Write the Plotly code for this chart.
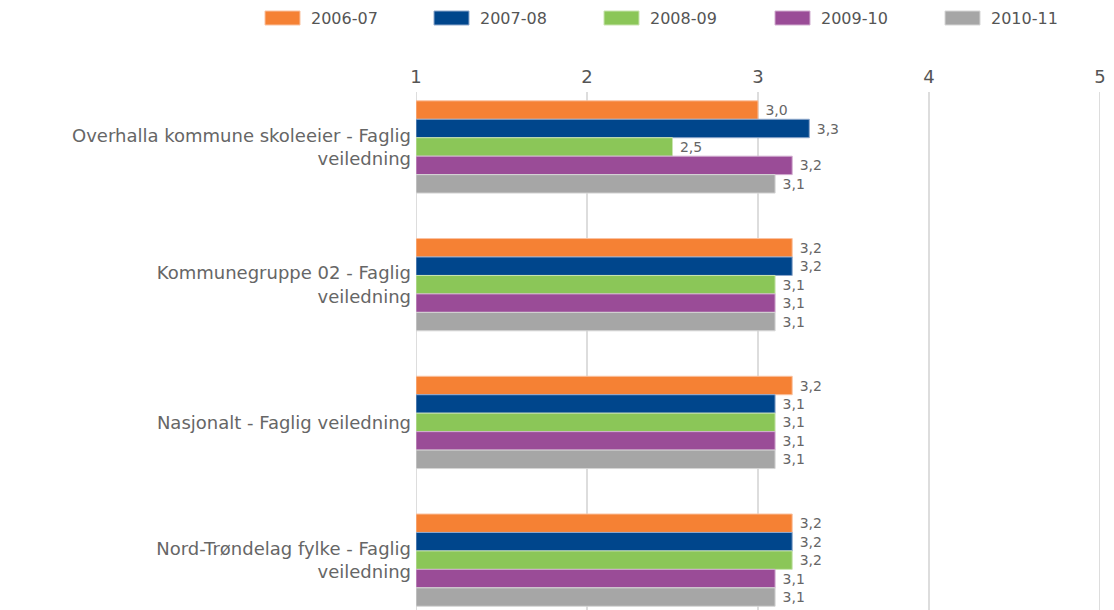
import plotly.graph_objects as go

categories = [
    "Overhalla kommune skoleeier - Faglig<br>veiledning",
    "Kommunegruppe 02 - Faglig<br>veiledning",
    "Nasjonalt - Faglig veiledning",
    "Nord-Trøndelag fylke - Faglig<br>veiledning",
]
series_names = ["2006-07", "2007-08", "2008-09", "2009-10", "2010-11"]
values = {
    "2006-07": [3.0, 3.2, 3.2, 3.2],
    "2007-08": [3.3, 3.2, 3.1, 3.2],
    "2008-09": [2.5, 3.1, 3.1, 3.2],
    "2009-10": [3.2, 3.1, 3.1, 3.1],
    "2010-11": [3.1, 3.1, 3.1, 3.1],
}
colors = ["#F58134", "#00468C", "#8BC658", "#9A4C97", "#A6A6A6"]
line_colors = ["#FAC2A0", "#8FA8CC", "#C9E4B0", "#D2AED0", "#D6D6D6"]
x_ticks = [1, 2, 3, 4, 5]

FONT = "DejaVu Sans"
fig = go.Figure()
for name, c, lc in zip(series_names, colors, line_colors):
    fig.add_trace(go.Bar(
        name=name,
        y=categories,
        x=[v - 1 for v in values[name]],
        base=1,
        orientation="h",
        marker=dict(color=c, line=dict(color=lc, width=1)),
        text=[" " + f"{v:.1f}".replace(".", ",") for v in values[name]],
        textposition="outside",
        textfont=dict(family=FONT, size=14, color="#666666"),
        cliponaxis=False,
        showlegend=False,
    ))

# custom legend (wide swatches like the original), positioned in paper coords
plot_left, plot_w = 416, 684
plot_bottom, plot_h = 610, 518
def px_x(p):
    return (p - plot_left) / plot_w
def px_y(p):
    return (plot_bottom - p) / plot_h

legend_x = [265, 434, 604, 775, 945]
shapes = []
annotations = []
for name, c, lc, lx in zip(series_names, colors, line_colors, legend_x):
    shapes.append(dict(
        type="rect", xref="paper", yref="paper",
        x0=px_x(lx), x1=px_x(lx + 35), y0=px_y(25), y1=px_y(11),
        fillcolor=c, line=dict(color=lc, width=1),
    ))
    annotations.append(dict(
        xref="paper", yref="paper", x=px_x(lx + 44), y=px_y(18),
        text=name, showarrow=False, xanchor="left", yanchor="middle",
        font=dict(family=FONT, size=16, color="#555555"),
    ))

# gridlines at the range edges (plotly omits them)
for xv in (x_ticks[0], x_ticks[-1]):
    shapes.append(dict(
        type="line", xref="x", yref="paper", x0=xv, x1=xv, y0=0, y1=1,
        line=dict(color="#DDDDDD", width=2), layer="below",
    ))

fig.update_layout(
    width=1106, height=602,
    barmode="group",
    bargap=0.33,
    bargroupgap=0.0,
    plot_bgcolor="white",
    paper_bgcolor="white",
    margin=dict(l=408, r=14, t=84, b=0),
    font=dict(family=FONT, color="#555555"),
    showlegend=False,
    shapes=shapes,
    annotations=annotations,
    xaxis=dict(
        side="top", range=[1, 5], tickvals=x_ticks,
        showgrid=True, gridcolor="#DDDDDD", gridwidth=2,
        zeroline=False, showline=False,
        tickfont=dict(size=18, color="#555555"),
        ticks="", ticklabelstandoff=4,
    ),
    yaxis=dict(
        autorange=False, range=[3.362, -0.399],
        showgrid=False, zeroline=False, showline=False,
        tickfont=dict(size=18, color="#666666"),
        ticks="", ticklabelstandoff=4,
    ),
)

fig.write_html("out.html")
